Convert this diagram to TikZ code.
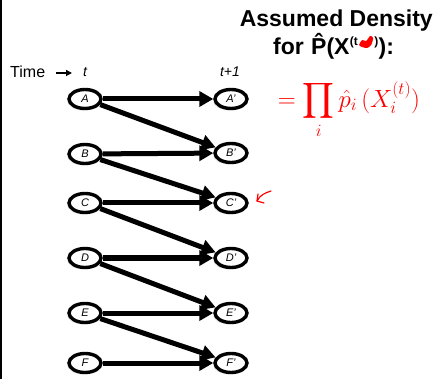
\documentclass[tikz,border=0pt]{standalone}
\usepackage{exscale}
\usepackage{fontspec}
\setmainfont{Liberation Sans}
\usetikzlibrary{arrows.meta,shadows,shapes.geometric}
\begin{document}
\begin{tikzpicture}[x=1pt,y=-1pt,
  st/.style={ellipse,draw,line width=3.4pt,minimum width=32pt,minimum height=19pt,inner sep=0pt,fill=white,
    drop shadow={opacity=0.15,shadow xshift=-2pt,shadow yshift=-2pt},font=\itshape\fontsize{11}{11}\selectfont},
  ar/.style={line width=5pt,-{Triangle[length=14pt,width=15pt]}},
  tt/.style={font=\bfseries\fontsize{23}{23}\selectfont,inner sep=0pt,anchor=base west},
  hw/.style={red,line width=1.2pt,line cap=round}]
\useasboundingbox (0,0) rectangle (436,379);
\fill[white] (0,0) rectangle (436,379);
\draw[line width=1.4pt] (1,0) -- (1,379);
% title
\node[tt,anchor=base east] (title1) at (433,27) {Assumed Density};
\node[tt] (l2a) at (273,55) {for};
\node[tt] (l2b) at (311,55) {\^{P}(X};
\node[font=\bfseries\fontsize{12}{12}\selectfont,inner sep=0pt,anchor=base west] (l2c) at ([yshift=9pt]l2b.base east) {(t};
\fill[red,shift={(l2c.base east)}] plot[smooth cycle] coordinates {(1pt,1pt) (4pt,6pt) (8pt,5pt) (12pt,10pt) (15pt,8pt) (13pt,1pt) (9pt,-2pt) (4pt,-1pt)};
\node[font=\bfseries\fontsize{12}{12}\selectfont,inner sep=0pt,anchor=base west] (l2d) at ([xshift=16pt]l2c.base east) {)};
\node[tt] (l2e) at (l2d.base east |- l2b.base) {):};
% time row
\node[font=\fontsize{16}{16}\selectfont,inner sep=0pt,anchor=base west] (time) at (10,78) {Time};
\coordinate (ta1) at (56,73);
\coordinate (ta2) at (72,73);
\draw[line width=1.3pt,-{Triangle[length=6pt,width=6pt]}] (ta1) -- (ta2);
\node[font=\itshape\fontsize{14}{14}\selectfont] (tl) at (85,72) {t};
\node[font=\itshape\fontsize{14}{14}\selectfont] (tr) at (230,72) {t+1};
% nodes
\node[st] (A) at (85,99) {A};
\node[st] (B) at (85,154) {B};
\node[st] (C) at (85,203) {C};
\node[st] (D) at (85,258) {D};
\node[st] (E) at (85,313) {E};
\node[st] (F) at (85,363) {F};
\node[st] (A2) at (231,99) {A'};
\node[st] (B2) at (231,153) {B'};
\node[st] (C2) at (231,203) {C'};
\node[st] (D2) at (231,258) {D'};
\node[st] (E2) at (231,313) {E'};
\node[st] (F2) at (231,363) {F'};
% arrows
\foreach \a/\b in {A/A2,B/B2,C/C2,D/D2,E/E2,F/F2}{\draw[ar] (\a) -- (\b);}
\foreach \a/\b in {A/B2,B/C2,C/D2,D/E2,E/F2}{\draw[ar] (\a.-20) -- (\b.160);}
% red handwriting
\node[red,font=\fontsize{24}{24}\selectfont] (eq) at (349,110) {$\displaystyle =\prod_i \hat{p}_i\,(X_i^{(t)})$};
\draw[hw] (271,191) .. controls (265,193) and (260,195) .. (257,201);
\draw[hw] (258,194) -- (257,201) -- (264,203);
\end{tikzpicture}
\end{document}
